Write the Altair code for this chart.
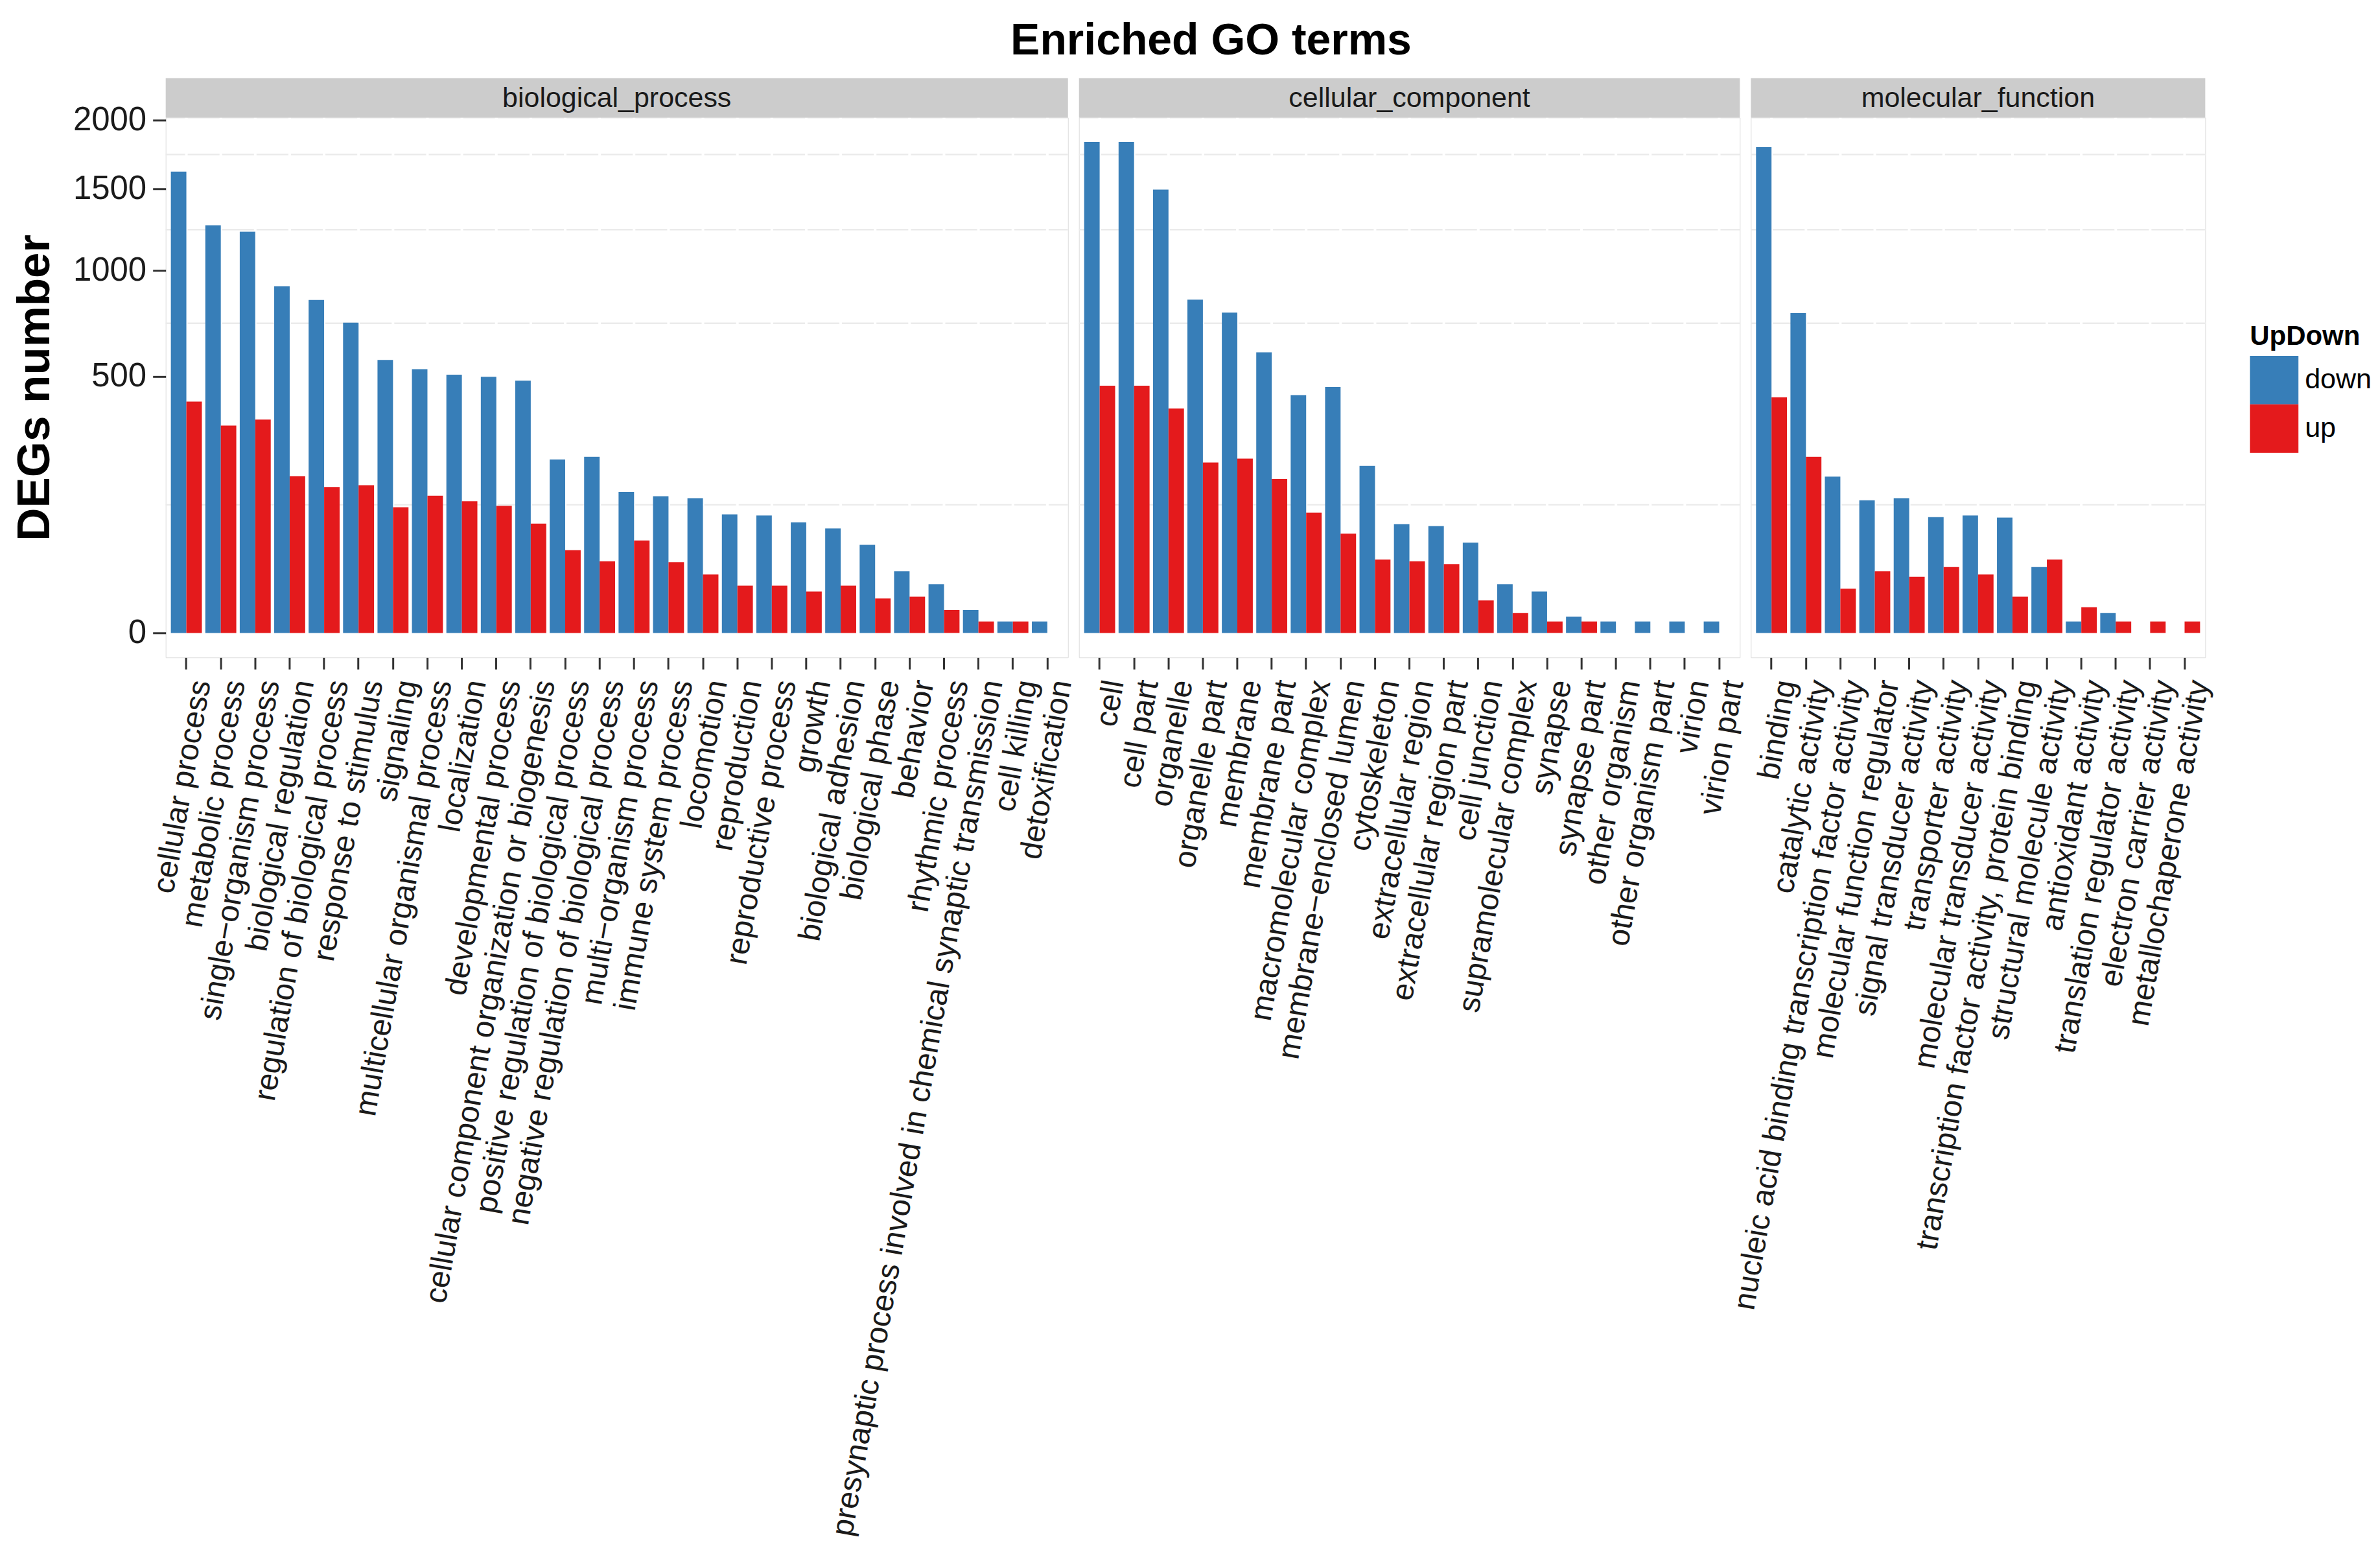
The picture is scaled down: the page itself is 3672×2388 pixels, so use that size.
import altair as alt
import pandas as pd

FONT = "Liberation Sans"

bp_terms = ["cellular process", "metabolic process", "single\u2212organism process",
            "biological regulation", "regulation of biological process", "response to stimulus",
            "signaling", "multicellular organismal process", "localization",
            "developmental process", "cellular component organization or biogenesis",
            "positive regulation of biological process", "negative regulation of biological process",
            "multi\u2212organism process", "immune system process", "locomotion", "reproduction",
            "reproductive process", "growth", "biological adhesion", "biological phase",
            "behavior", "rhythmic process",
            "presynaptic process involved in chemical synaptic transmission",
            "cell killing", "detoxification"]
bp_down = [1619, 1264, 1224, 914, 843, 732, 567, 529, 507, 499, 484, 229, 236, 151, 142, 138,
           107, 105, 93, 83, 59, 29, 18, 4, 1, 1]
bp_up = [407, 327, 346, 187, 162, 166, 120, 143, 132, 123, 91, 52, 39, 65, 38, 26,
         17, 17, 13, 17, 9, 10, 4, 1, 1, 0]

cc_terms = ["cell", "cell part", "organelle", "organelle part", "membrane", "membrane part",
            "macromolecular complex", "membrane\u2212enclosed lumen", "cytoskeleton",
            "extracellular region", "extracellular region part", "cell junction",
            "supramolecular complex", "synapse", "synapse part", "other organism",
            "other organism part", "virion", "virion part"]
cc_down = [1833, 1833, 1495, 845, 780, 599, 430, 460, 212, 90, 87, 62, 18, 13, 2, 1, 1, 1, 1]
cc_up = [465, 465, 383, 221, 231, 180, 110, 75, 41, 39, 36, 8, 3, 1, 1, 0, 0, 0, 0]

mf_terms = ["binding", "catalytic activity", "nucleic acid binding transcription factor activity",
            "molecular function regulator", "signal transducer activity", "transporter activity",
            "molecular transducer activity", "transcription factor activity, protein binding",
            "structural molecule activity", "antioxidant activity", "translation regulator activity",
            "electron carrier activity", "metallochaperone activity"]
mf_down = [1795, 778, 186, 134, 138, 102, 105, 101, 33, 1, 3, 0, 0]
mf_up = [422, 236, 15, 29, 24, 33, 26, 10, 41, 5, 1, 1, 1]

y_ticks = [0, 500, 1000, 1500, 2000]
minor_breaks = [125, 729, 1237, 1741]
groups = ["down", "up"]
colors = ["#377EB8", "#E41A1C"]

STEP = 53.2
HEIGHT = 834
STRIP_H = 61

yscale = alt.Scale(type="sqrt", domain=[-4.58, 2020], nice=False, zero=False)
cscale = alt.Scale(domain=groups, range=colors)
legend = alt.Legend(title="UpDown", orient="none", legendX=3220, legendY=318,
                    symbolType="square", symbolSize=5625, symbolStrokeWidth=0,
                    rowPadding=0, labelFontSize=43, titleFontSize=42, titleFontWeight="bold",
                    labelOffset=10, titlePadding=8, labelFont=FONT, titleFont=FONT,
                    labelColor="#000000", titleColor="#000000")


def panel(name, terms, down, up, show_y):
    n = len(terms)
    width = round(STEP * (n + 0.2))
    df = pd.DataFrame({
        "term": terms * 2,
        "UpDown": ["down"] * n + ["up"] * n,
        "count": down + up,
    })
    if show_y:
        yaxis = alt.Axis(values=y_ticks, format="d", title="DEGs number", titleFontSize=71,
                         titleFontWeight="bold", titleFont=FONT, titlePadding=22,
                         titleColor="#000000",
                         labelFontSize=51, labelFont=FONT, labelColor="#1a1a1a",
                         tickSize=20, tickWidth=3, tickColor="#333333", domain=False,
                         grid=False, labelPadding=10)
    else:
        yaxis = None
    xaxis = alt.Axis(title=None, labelAngle=-80, labelAlign="right", labelBaseline="top",
                     labelFontSize=48, labelFont=FONT, labelColor="#1a1a1a", labelLimit=3000,
                     tickSize=18, tickWidth=3, tickColor="#333333", domain=False, grid=False,
                     labelPadding=13)
    xscale = alt.Scale(paddingInner=0.1, paddingOuter=0.15)
    xenc = alt.X("term:N", sort=terms, scale=xscale, axis=xaxis)

    hgrid = alt.Chart(pd.DataFrame({"count": minor_breaks})).mark_rule(
        color="#EBEBEB", strokeWidth=2.5).encode(
        y=alt.Y("count:Q", scale=yscale, axis=yaxis))
    vgrid = alt.Chart(pd.DataFrame({"term": terms})).mark_rule(
        color="#FFFFFF", strokeWidth=4).encode(x=xenc)
    bars = alt.Chart(df).mark_bar().encode(
        x=xenc,
        xOffset=alt.XOffset("UpDown:N", sort=groups,
                            scale=alt.Scale(paddingInner=0, paddingOuter=0)),
        y=alt.Y("count:Q", scale=yscale, axis=yaxis),
        y2=alt.datum(0),
        color=alt.Color("UpDown:N", scale=cscale, legend=legend),
    )
    sdf = pd.DataFrame({"label": [name]})
    strip = alt.Chart(sdf).mark_rect(fill="#CCCCCC").encode(
        x=alt.value(0), x2=alt.value(width), y=alt.value(-STRIP_H), y2=alt.value(0))
    stext = alt.Chart(sdf).mark_text(fontSize=43, font=FONT, color="#1a1a1a",
                                     baseline="middle", align="center").encode(
        x=alt.value(width / 2), y=alt.value(-STRIP_H / 2 + 1), text="label:N")
    return alt.layer(hgrid, vgrid, bars, strip, stext).properties(width=width, height=HEIGHT)


p1 = panel("biological_process", bp_terms, bp_down, bp_up, True)
p2 = panel("cellular_component", cc_terms, cc_down, cc_up, False)
p3 = panel("molecular_function", mf_terms, mf_down, mf_up, False)

chart = alt.hconcat(p1, p2, p3, spacing=17, bounds="flush").resolve_scale(
    y="shared", color="shared", x="independent", xOffset="independent"
).properties(
    title=alt.TitleParams("Enriched GO terms", fontSize=68, fontWeight="bold", font=FONT,
                          anchor="middle", offset=22, dx=30, color="#000000"),
    padding={"left": 10, "top": 20, "right": 5, "bottom": 5},
).configure_view(stroke="#333333", strokeWidth=2.5).configure(background="white")

chart.save("out.html", embed_options={"renderer": "svg", "actions": False})
